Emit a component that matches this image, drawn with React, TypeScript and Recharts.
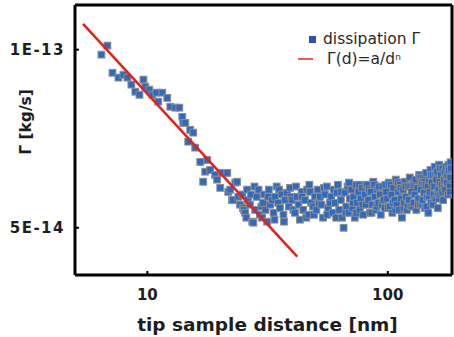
import React from "react"
import {
  ScatterChart,
  Scatter,
  XAxis,
  YAxis,
  Legend,
} from "recharts"

// tip-sample distance [nm], dissipation [kg/s]
const approachPoints: [number, number][] = [
  [6.44, 9.81e-14], [6.82, 1.016e-13], [7.16, 9.14e-14], [7.58, 8.97e-14],
  [7.95, 9.07e-14], [8.26, 8.97e-14], [8.58, 8.73e-14], [8.91, 8.49e-14],
  [9.27, 8.39e-14], [9.63, 8.9e-14], [9.8, 8.66e-14], [10.19, 8.56e-14],
  [10.49, 8.39e-14], [10.9, 8.46e-14], [11.1, 8.17e-14], [11.54, 8.46e-14],
  [12.1, 8.29e-14], [12.46, 8.01e-14], [13.06, 7.98e-14], [13.58, 7.98e-14],
  [13.97, 7.7e-14], [14.1, 7.52e-14], [14.38, 7.52e-14], [14.79, 6.99e-14],
  [15.07, 7.32e-14], [15.52, 7.24e-14], [15.82, 6.83e-14], [16.6, 6.46e-14],
  [17.07, 5.98e-14], [17.4, 6.22e-14], [17.74, 6.51e-14], [18.25, 6.26e-14],
  [19.15, 6.14e-14], [19.5, 6.03e-14], [20.1, 5.84e-14], [20.5, 6.19e-14],
  [21.5, 6.19e-14], [21.7, 5.75e-14], [22.1, 5.8e-14], [22.5, 5.57e-14],
  [22.7, 5.57e-14], [23.2, 5.96e-14], [23.6, 5.98e-14], [23.9, 5.64e-14],
]

const plateauPoints: [number, number][] = [
  [24.3, 5.47e-14], [24.8, 5.69e-14], [25.0, 5.4e-14], [25.2, 5.36e-14],
  [25.5, 5.3e-14], [25.8, 5.2e-14], [26.0, 5.8e-14], [26.2, 5.57e-14],
  [26.7, 5.47e-14], [27.0, 5.69e-14], [27.3, 5.12e-14], [27.6, 5.1e-14],
  [27.9, 5.87e-14], [28.1, 5.36e-14], [28.5, 5.64e-14], [29.0, 5.8e-14],
  [29.4, 5.26e-14], [29.8, 5.43e-14], [30.0, 5.2e-14], [30.3, 5.51e-14],
  [30.6, 5.69e-14], [31.0, 5.36e-14], [31.5, 5.12e-14], [31.8, 5.64e-14],
  [32.0, 5.8e-14], [32.4, 5.47e-14], [33.0, 5.57e-14], [33.5, 5.3e-14],
  [33.8, 5.16e-14], [34.0, 5.64e-14], [34.5, 5.87e-14], [35.0, 5.51e-14],
  [35.3, 5.8e-14], [35.6, 5.4e-14], [36.2, 5.69e-14], [36.8, 5.26e-14],
  [37.0, 5.12e-14], [37.4, 5.57e-14], [38.1, 5.73e-14], [38.8, 5.43e-14],
  [39.2, 5.84e-14], [39.6, 5.64e-14], [40.0, 5.57e-14], [40.5, 5.36e-14],
  [41.1, 5.3e-14], [41.5, 5.87e-14], [41.8, 5.64e-14], [42.5, 5.47e-14],
  [43.1, 5.16e-14], [43.8, 5.75e-14], [44.0, 5.64e-14], [44.5, 5.36e-14],
  [45.3, 5.57e-14], [45.8, 5.2e-14], [46.2, 5.8e-14], [46.8, 5.26e-14],
  [47.2, 5.91e-14], [47.5, 5.75e-14], [48.0, 5.51e-14], [48.9, 5.43e-14],
  [49.3, 5.26e-14], [49.8, 5.64e-14], [50.5, 5.36e-14], [51.2, 5.8e-14],
  [51.7, 5.51e-14], [52.2, 5.64e-14], [53.0, 5.47e-14], [53.8, 5.2e-14],
  [54.3, 5.84e-14], [54.8, 5.69e-14], [55.8, 5.87e-14], [56.0, 5.26e-14],
  [56.5, 5.4e-14], [57.4, 5.51e-14], [58.2, 5.64e-14], [59.0, 5.3e-14],
  [59.5, 5.8e-14], [60.3, 5.51e-14], [61.0, 5.2e-14], [61.4, 5.73e-14],
  [62.0, 5.91e-14], [62.8, 5.36e-14], [63.8, 5.57e-14], [64.0, 5.75e-14],
  [64.5, 5.2e-14], [65.5, 5.0e-14], [66.3, 5.73e-14], [66.8, 5.3e-14],
  [67.2, 5.43e-14], [68.0, 5.87e-14], [68.8, 5.3e-14], [69.0, 5.96e-14],
  [69.5, 5.6e-14], [70.5, 5.8e-14], [71.2, 5.4e-14], [71.7, 5.51e-14],
  [72.0, 5.64e-14], [72.9, 5.2e-14], [73.8, 5.91e-14], [74.0, 5.3e-14],
  [74.5, 5.51e-14], [75.5, 5.75e-14], [76.0, 5.91e-14], [76.5, 5.36e-14],
  [77.2, 5.6e-14], [78.0, 5.84e-14], [78.5, 5.47e-14], [79.0, 5.26e-14],
  [80.3, 5.69e-14], [80.8, 5.91e-14], [81.0, 5.47e-14], [82.2, 5.91e-14],
  [83.0, 5.57e-14], [83.5, 5.8e-14], [84.2, 5.3e-14], [85.0, 5.75e-14],
  [85.6, 5.3e-14], [86.2, 5.47e-14], [87.0, 5.98e-14], [88.0, 5.91e-14],
  [88.3, 5.64e-14], [89.0, 5.36e-14], [90.0, 5.43e-14], [90.5, 5.8e-14],
  [91.5, 5.51e-14], [92.0, 5.87e-14], [92.7, 5.69e-14], [93.5, 5.26e-14],
  [94.5, 5.47e-14], [95.0, 5.87e-14], [96.0, 5.57e-14], [97.2, 5.4e-14],
  [97.8, 5.91e-14], [98.5, 5.75e-14], [99.5, 5.6e-14], [100.2, 5.4e-14],
  [101.0, 5.96e-14], [102.0, 5.43e-14], [103.0, 5.91e-14], [103.5, 5.69e-14],
  [104.5, 5.3e-14], [105.0, 5.51e-14], [105.5, 5.84e-14], [106.9, 5.57e-14],
  [107.5, 5.36e-14], [108.0, 6.03e-14], [109.0, 5.47e-14], [110.0, 5.96e-14],
  [110.5, 5.75e-14], [111.5, 5.36e-14], [112.2, 5.91e-14], [113.0, 5.84e-14],
  [113.5, 5.6e-14], [114.5, 5.2e-14], [115.8, 5.8e-14], [116.3, 5.4e-14],
  [117.0, 5.51e-14], [117.7, 5.98e-14], [118.5, 5.87e-14], [119.0, 5.64e-14],
  [120.0, 5.36e-14], [121.0, 5.47e-14], [121.5, 5.87e-14], [122.5, 5.57e-14],
  [123.4, 6.08e-14], [124.0, 5.87e-14], [124.5, 5.43e-14], [125.5, 5.75e-14],
  [126.5, 5.43e-14], [127.0, 5.91e-14], [128.0, 5.51e-14], [129.0, 5.96e-14],
  [129.5, 5.69e-14], [130.5, 6.03e-14], [131.5, 5.36e-14], [132.8, 5.84e-14],
  [133.5, 5.47e-14], [134.0, 5.6e-14], [135.0, 6.14e-14], [136.2, 5.47e-14],
  [136.8, 6.08e-14], [137.5, 5.8e-14], [138.5, 5.98e-14], [139.0, 5.47e-14],
  [139.5, 5.57e-14], [140.5, 6.08e-14], [141.5, 5.73e-14], [142.0, 5.98e-14],
  [142.5, 5.4e-14], [143.5, 5.91e-14], [144.5, 6.19e-14], [145.0, 5.43e-14],
  [145.5, 5.64e-14], [146.5, 5.87e-14], [147.5, 5.3e-14], [148.0, 5.64e-14],
  [148.5, 6.03e-14], [149.4, 5.75e-14], [150.5, 6.26e-14], [151.0, 6.14e-14],
  [151.5, 5.51e-14], [152.5, 5.96e-14], [153.8, 6.14e-14], [154.5, 5.47e-14],
  [155.0, 5.69e-14], [156.0, 5.87e-14], [156.7, 6.34e-14], [157.5, 6.14e-14],
  [158.0, 5.6e-14], [159.0, 6.03e-14], [160.2, 6.22e-14], [160.8, 5.69e-14],
  [161.5, 5.4e-14], [162.5, 5.8e-14], [163.0, 5.6e-14], [163.5, 6.39e-14],
  [164.4, 5.98e-14], [165.0, 6.3e-14], [165.5, 5.69e-14], [166.5, 6.14e-14],
  [167.8, 5.91e-14], [168.5, 5.75e-14], [169.0, 6.3e-14], [170.0, 5.57e-14],
  [171.2, 6.03e-14], [171.8, 5.84e-14], [172.5, 6.22e-14], [173.5, 5.8e-14],
  [174.8, 6.34e-14], [175.5, 6.08e-14], [176.0, 5.96e-14], [177.0, 6.14e-14],
  [178.2, 5.69e-14], [178.8, 6.39e-14], [179.5, 6.26e-14], [180.9, 5.87e-14],
  [181.5, 5.75e-14], [182.0, 6.08e-14], [182.5, 6.45e-14], [183.0, 6.3e-14],
]

// power law fit Γ(d) = a/d^n, two end points
const fitLine: [number, number][] = [
  [5.4, 1.106e-13],
  [42, 4.47e-14],
]

const xTicks = [10, 100]
const yTicks = [5e-14, 1e-13]
const xDomain = [5, 185]
const yDomain = [4.16e-14, 1.19e-13]

const measured = [...approachPoints, ...plateauPoints].map(([d, g]) => ({ d, g }))
const fit = fitLine.map(([d, g]) => ({ d, g }))

const FONT = "'DejaVu Sans', sans-serif"
const BLUE = "#3069be"
const RED = "#e3211c"

function sci(v: number) {
  const e = Math.floor(Math.log10(v) + 1e-9)
  const m = Math.round(v / Math.pow(10, e))
  return `${m}E${e}`
}

const SquareDot = (props: { cx?: number; cy?: number }) => {
  const { cx, cy } = props
  if (cx == null || cy == null) return <g />
  return (
    <rect
      x={cx - 3.4}
      y={cy - 3.4}
      width={6.8}
      height={6.8}
      fill={BLUE}
      stroke="#8d8d8d"
      strokeWidth={1}
    />
  )
}

const LegendBox = () => (
  <div
    style={{
      fontFamily: FONT,
      fontSize: 15.5,
      color: "#2a2a2a",
      lineHeight: "20px",
      background: "#fff",
    }}
  >
    <div style={{ display: "flex", alignItems: "center" }}>
      <span
        style={{
          display: "inline-block",
          width: 7,
          height: 7,
          background: "#2f4fb5",
          marginLeft: 12,
          marginRight: 7,
        }}
      />
      dissipation Γ
    </div>
    <div style={{ display: "flex", alignItems: "center" }}>
      <span
        style={{
          display: "inline-block",
          width: 15,
          height: 2,
          background: "#ee5a55",
          marginLeft: 1,
          marginRight: 14,
        }}
      />
      Γ(d)=a/d<sup style={{ fontSize: 9, lineHeight: 0, position: "relative", top: -2 }}>n</sup>
    </div>
  </div>
)

const YLabel = () => (
  <text
    x={31}
    y={122}
    transform="rotate(-90 31 122)"
    textAnchor="middle"
    fontFamily={FONT}
    fontWeight="bold"
    fontSize={15.5}
    fill="#1e1e1e"
  >
    Γ [kg/s]
  </text>
)

export default function App() {
  return (
    <div style={{ position: "absolute", left: 0, top: 0, width: 454, height: 337, background: "#fff" }}>
      <ScatterChart
        width={454}
        height={337}
        margin={{ top: 0, right: 0, bottom: 0, left: 0 }}
      >
        <XAxis
          dataKey="d"
          type="number"
          scale="log"
          domain={xDomain}
          ticks={xTicks}
          allowDataOverflow
          height={62}
          axisLine={{ stroke: "#000", strokeWidth: 3 }}
          tickLine={{ stroke: "#000", strokeWidth: 2 }}
          tickSize={-4}
          tickMargin={18}
          tick={{ fontFamily: FONT, fontWeight: "bold", fontSize: 15, fill: "#1e1e1e" }}
          label={{
            value: "tip sample distance [nm]",
            position: "insideBottom",
            offset: 6,
            dx: 4,
            style: { fontFamily: FONT, fontWeight: "bold", fontSize: 18.5, fill: "#1e1e1e" },
          }}
        />
        <XAxis
          xAxisId="top"
          orientation="top"
          type="number"
          scale="log"
          domain={xDomain}
          ticks={xTicks}
          allowDataOverflow
          height={5}
          axisLine={{ stroke: "#000", strokeWidth: 3 }}
          tickLine={{ stroke: "#000", strokeWidth: 2 }}
          tickSize={-4}
          tick={false}
        />
        <YAxis
          dataKey="g"
          type="number"
          scale="log"
          domain={yDomain}
          ticks={yTicks}
          allowDataOverflow
          width={75}
          tickFormatter={sci}
          axisLine={{ stroke: "#000", strokeWidth: 3 }}
          tickLine={{ stroke: "#000", strokeWidth: 2 }}
          tickSize={-4}
          tickMargin={14}
          tick={{ fontFamily: FONT, fontWeight: "bold", fontSize: 15, fill: "#1e1e1e", letterSpacing: 1.5 }}
          label={{ content: <YLabel /> }}
        />
        <YAxis
          yAxisId="right"
          orientation="right"
          type="number"
          scale="log"
          domain={yDomain}
          allowDataOverflow
          width={2}
          axisLine={{ stroke: "#000", strokeWidth: 3 }}
          tickLine={false}
          tick={false}
        />
        <Legend
          layout="horizontal"
          verticalAlign="middle"
          align="center"
          content={<LegendBox />}
          wrapperStyle={{ top: 29, left: 297, width: 145 }}
        />
        <Scatter
          name="dissipation Γ"
          data={measured}
          shape={<SquareDot />}
          isAnimationActive={false}
        />
        <Scatter
          name="Γ(d)=a/dⁿ"
          data={fit}
          line={{ stroke: RED, strokeWidth: 2.5 }}
          lineType="joint"
          shape={() => <g />}
          isAnimationActive={false}
        />
      </ScatterChart>
    </div>
  )
}
